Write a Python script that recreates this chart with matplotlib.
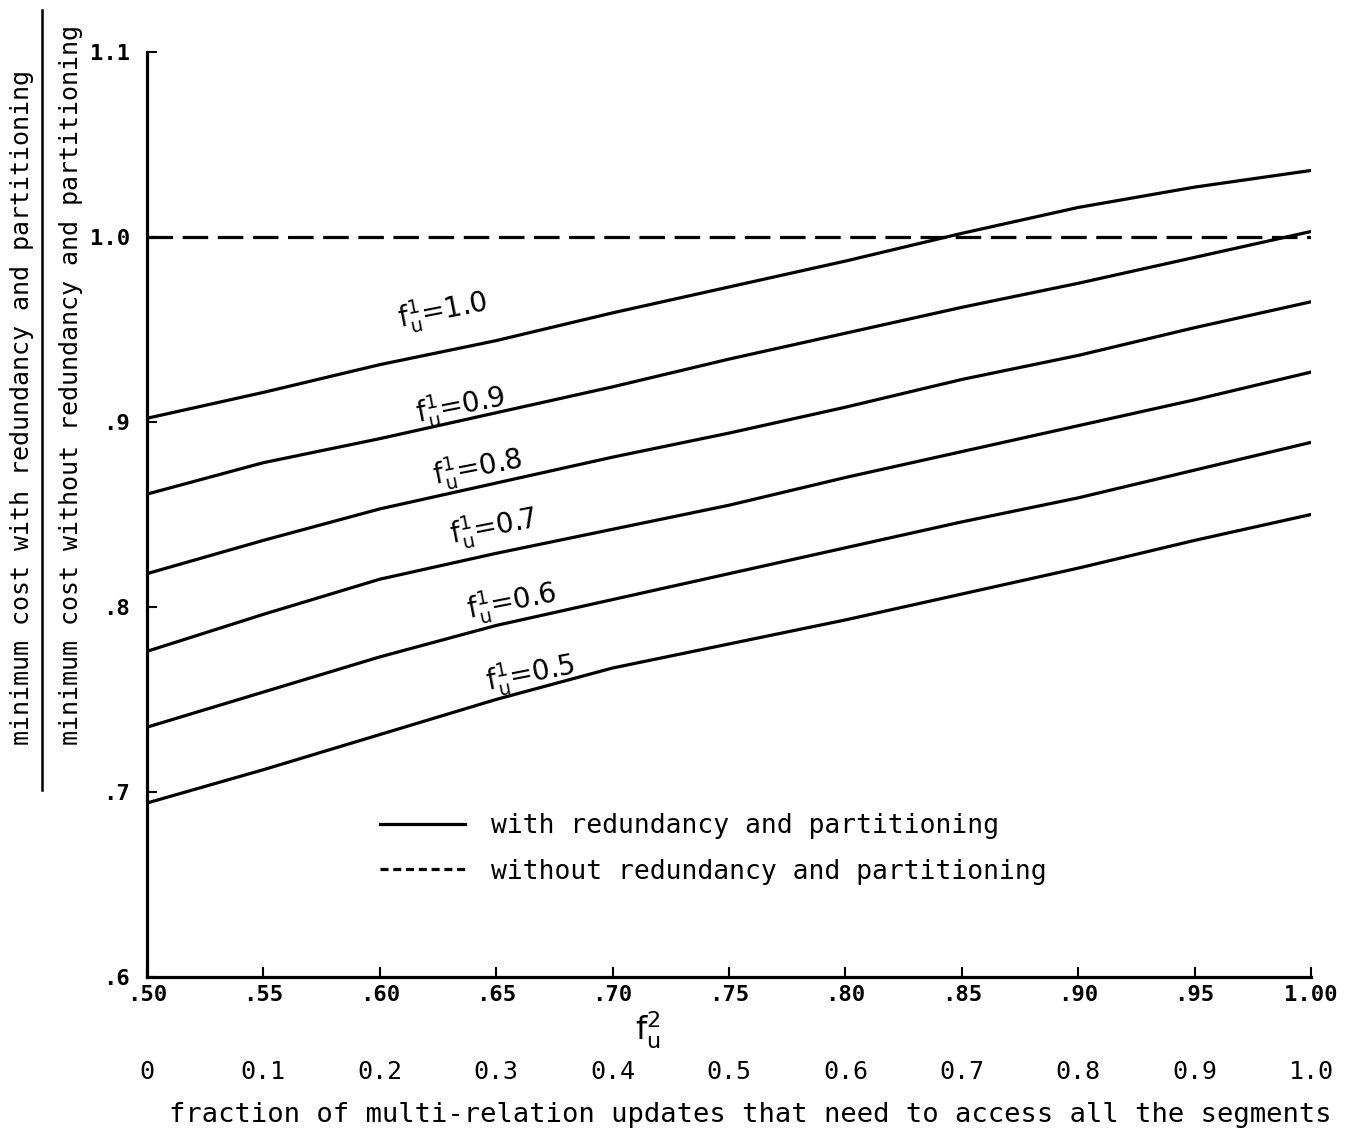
import matplotlib.pyplot as plt
from matplotlib.lines import Line2D

# datos
fu2 = [0.50, 0.55, 0.60, 0.65, 0.70, 0.75, 0.80, 0.85, 0.90, 0.95, 1.00]
fu1_10 = [0.902, 0.916, 0.931, 0.944, 0.959, 0.973, 0.987, 1.002, 1.016, 1.027, 1.036]
fu1_09 = [0.861, 0.878, 0.891, 0.905, 0.919, 0.934, 0.948, 0.962, 0.975, 0.989, 1.003]
fu1_08 = [0.818, 0.836, 0.853, 0.867, 0.881, 0.894, 0.908, 0.923, 0.936, 0.951, 0.965]
fu1_07 = [0.776, 0.796, 0.815, 0.829, 0.842, 0.855, 0.870, 0.884, 0.898, 0.912, 0.927]
fu1_06 = [0.735, 0.754, 0.773, 0.790, 0.804, 0.818, 0.832, 0.846, 0.859, 0.874, 0.889]
fu1_05 = [0.694, 0.712, 0.731, 0.750, 0.767, 0.780, 0.793, 0.807, 0.821, 0.836, 0.850]
sin_redundancia = [1.0, 1.0]
curvas = [fu1_10, fu1_09, fu1_08, fu1_07, fu1_06, fu1_05]
etiquetas = ["1.0", "0.9", "0.8", "0.7", "0.6", "0.5"]
pos_etiquetas = [(0.627, 0.960), (0.635, 0.909), (0.642, 0.875),
                 (0.649, 0.843), (0.657, 0.803), (0.665, 0.764)]
xticks = [0.50, 0.55, 0.60, 0.65, 0.70, 0.75, 0.80, 0.85, 0.90, 0.95, 1.00]
xticklabels = [".50", ".55", ".60", ".65", ".70", ".75", ".80", ".85", ".90", ".95", "1.00"]
yticks = [0.6, 0.7, 0.8, 0.9, 1.0, 1.1]
yticklabels = [".6", ".7", ".8", ".9", "1.0", "1.1"]
frac_ticks = [0, 0.1, 0.2, 0.3, 0.4, 0.5, 0.6, 0.7, 0.8, 0.9, 1.0]
frac_labels = ["0", "0.1", "0.2", "0.3", "0.4", "0.5", "0.6", "0.7", "0.8", "0.9", "1.0"]

plt.rcParams['font.family'] = 'DejaVu Sans Mono'
plt.rcParams['mathtext.fontset'] = 'dejavusans'

fig = plt.figure(figsize=(13.6, 11.32), dpi=100)
ax = fig.add_axes([0.108, 0.137, 0.856, 0.817])

for c in curvas:
    ax.plot(fu2, c, 'k-', lw=2.3, solid_capstyle='round')
ax.plot([fu2[0], fu2[-1]], sin_redundancia, 'k--', lw=2.3, dashes=(8, 3))

for e, (x, y) in zip(etiquetas, pos_etiquetas):
    ax.text(x, y, r"$\mathregular{f_u^1}$=" + e, fontsize=20, rotation=11,
            ha='center', va='center', family='DejaVu Sans')

ax.set_xlim(0.5, 1.0)
ax.set_ylim(0.6, 1.1)
ax.spines['top'].set_visible(False)
ax.spines['right'].set_visible(False)
for s in ['left', 'bottom']:
    ax.spines[s].set_linewidth(2.3)
ax.set_xticks(xticks)
ax.set_xticklabels(xticklabels, fontsize=16, fontweight='bold')
ax.set_yticks(yticks)
ax.set_yticklabels(yticklabels, fontsize=16, fontweight='bold')
ax.tick_params(axis='x', direction='in', length=7, width=1.5, pad=6)
ax.tick_params(axis='y', direction='in', length=7, width=1.5, pad=12)
ax.set_xlabel(r"$\mathregular{f_u^2}$", fontsize=23, labelpad=2, family='DejaVu Sans')
ax.xaxis.set_label_coords(0.43, -0.035)

# segundo eje con la fraccion
sec = ax.secondary_xaxis(-0.087, functions=(lambda x: (x - 0.5) * 2, lambda t: t / 2 + 0.5))
sec.set_xticks(frac_ticks)
sec.set_xticklabels(frac_labels, fontsize=18)
sec.tick_params(length=0, pad=2)
sec.spines['bottom'].set_visible(False)
sec.set_xlabel("fraction of multi-relation updates that need to access all the segments",
               fontsize=19.5, labelpad=13)
sec.xaxis.label.set_x(0.518)

leyenda = [Line2D([0], [0], color='k', lw=2.3),
           Line2D([0], [0], color='k', lw=2.3, dashes=(2.5, 1.5))]
ax.legend(leyenda, ["with redundancy and partitioning", "without redundancy and partitioning"],
          loc='upper left', bbox_to_anchor=(0.18, 0.203), frameon=False, fontsize=19,
          handlelength=3.2, handletextpad=1.0, labelspacing=0.75)

# etiqueta del eje y como fraccion
fig.text(0.016, 0.342, "minimum cost with redundancy and partitioning", rotation=90,
         fontsize=18, ha='center', va='bottom')
fig.text(0.052, 0.342, "minimum cost without redundancy and partitioning", rotation=90,
         fontsize=18, ha='center', va='bottom')
fig.add_artist(Line2D([0.031, 0.031], [0.302, 0.991], color='k', lw=1.8, transform=fig.transFigure))

plt.savefig("out.png")
